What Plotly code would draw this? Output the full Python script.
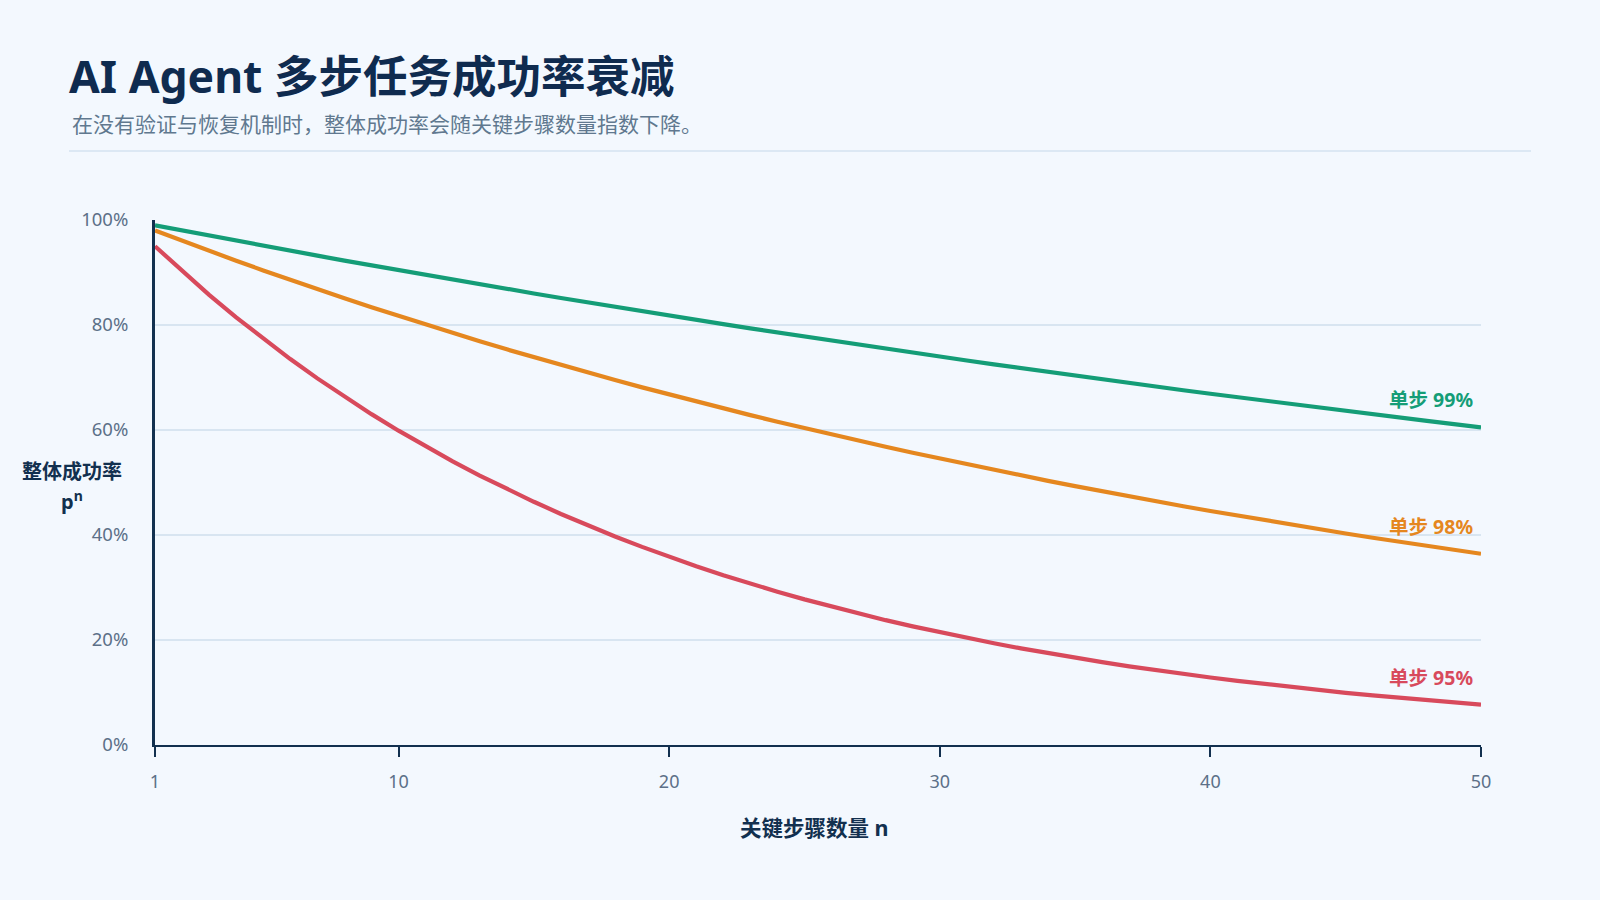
import plotly.graph_objects as go

# step counts and overall success p^n
steps = list(range(1, 51))

p99 = [0.9900, 0.9801, 0.9703, 0.9606, 0.9510, 0.9415, 0.9321, 0.9227, 0.9135, 0.9044,
       0.8953, 0.8864, 0.8775, 0.8687, 0.8601, 0.8515, 0.8429, 0.8345, 0.8262, 0.8179,
       0.8097, 0.8016, 0.7936, 0.7857, 0.7778, 0.7700, 0.7623, 0.7547, 0.7472, 0.7397,
       0.7323, 0.7250, 0.7177, 0.7106, 0.7034, 0.6964, 0.6894, 0.6826, 0.6757, 0.6690,
       0.6623, 0.6557, 0.6491, 0.6426, 0.6362, 0.6298, 0.6235, 0.6173, 0.6111, 0.6050]

p98 = [0.9800, 0.9604, 0.9412, 0.9224, 0.9039, 0.8858, 0.8681, 0.8508, 0.8337, 0.8171,
       0.8007, 0.7847, 0.7690, 0.7536, 0.7386, 0.7238, 0.7093, 0.6951, 0.6812, 0.6676,
       0.6543, 0.6412, 0.6283, 0.6158, 0.6035, 0.5914, 0.5796, 0.5680, 0.5566, 0.5455,
       0.5346, 0.5239, 0.5134, 0.5031, 0.4931, 0.4832, 0.4735, 0.4641, 0.4548, 0.4457,
       0.4368, 0.4281, 0.4195, 0.4111, 0.4029, 0.3948, 0.3869, 0.3792, 0.3716, 0.3642]

p95 = [0.9500, 0.9025, 0.8574, 0.8145, 0.7738, 0.7351, 0.6983, 0.6634, 0.6302, 0.5987,
       0.5688, 0.5404, 0.5133, 0.4877, 0.4633, 0.4401, 0.4181, 0.3972, 0.3774, 0.3585,
       0.3406, 0.3235, 0.3074, 0.2920, 0.2774, 0.2635, 0.2503, 0.2378, 0.2259, 0.2146,
       0.2039, 0.1937, 0.1840, 0.1748, 0.1661, 0.1578, 0.1499, 0.1424, 0.1353, 0.1285,
       0.1221, 0.1160, 0.1102, 0.1047, 0.0994, 0.0945, 0.0897, 0.0853, 0.0810, 0.0769]

series_names = ["单步 99%", "单步 98%", "单步 95%"]
series_colors = ["#149d77", "#e5871f", "#d84a5c"]
x_ticks = [1, 10, 20, 30, 40, 50]

FONT = "Noto Sans, Noto Sans CJK SC, sans-serif"
NAVY = "#12304f"

fig = go.Figure()
for name, vals, color in zip(series_names, [p99, p98, p95], series_colors):
    fig.add_trace(go.Scatter(x=steps, y=vals, mode="lines", name=name,
                             line=dict(color=color, width=4.2)))
    # end label above the last point
    fig.add_annotation(x=steps[-1], y=vals[-1], text="<b>%s</b>" % name,
                       showarrow=False, xanchor="right", yanchor="bottom",
                       xshift=-6, yshift=12, font=dict(size=19.5, color=color, family=FONT))

fig.update_layout(
    width=1600, height=900,
    paper_bgcolor="#f3f8fe", plot_bgcolor="#f3f8fe",
    font=dict(family=FONT, color="#5c7088"),
    showlegend=False,
    margin=dict(l=155, r=119, t=220, b=155),
    title=dict(text="<b>AI Agent 多步任务成功率衰减</b>", xref="container", yref="container",
               x=69 / 1600, y=1 - 77 / 900, xanchor="left", yanchor="middle",
               font=dict(size=44.5, color="#0f2b4f", family=FONT)),
)

fig.add_annotation(text="在没有验证与恢复机制时，整体成功率会随关键步骤数量指数下降。",
                   xref="paper", yref="paper", x=(70 - 155) / 1326, y=(745 - 124) / 525,
                   xanchor="left", yanchor="middle", showarrow=False,
                   font=dict(size=21, color="#60788f", family=FONT))

fig.add_shape(type="line", xref="paper", yref="paper",
              x0=(69 - 155) / 1326, x1=(1531 - 155) / 1326,
              y0=(745 - 151) / 525, y1=(745 - 151) / 525,
              line=dict(color="#d5e3f0", width=1.5))

# y axis title, two lines
fig.add_annotation(text="<b>整体成功率</b>", xref="paper", yref="paper",
                   x=(72 - 155) / 1326, y=(745 - 471) / 525, xanchor="center", yanchor="middle",
                   showarrow=False, font=dict(size=20, color=NAVY, family=FONT))
fig.add_annotation(text="<b>p<sup>n</sup></b>", xref="paper", yref="paper",
                   x=(72 - 155) / 1326, y=(745 - 500) / 525, xanchor="center", yanchor="middle",
                   showarrow=False, font=dict(size=20, color=NAVY, family=FONT))

fig.add_annotation(text="<b>关键步骤数量 n</b>", xref="paper", yref="paper",
                   x=0.497, y=(745 - 827) / 525, xanchor="center", yanchor="middle",
                   showarrow=False, font=dict(size=21.5, color=NAVY, family=FONT))

fig.update_xaxes(range=[1, 50], tickvals=x_ticks, showgrid=False, zeroline=False,
                 showline=True, linecolor=NAVY, linewidth=1.5,
                 ticks="outside", ticklen=10, tickwidth=2, tickcolor=NAVY,
                 tickfont=dict(size=18, color="#5c7088"), ticklabelstandoff=10)

fig.update_yaxes(range=[0, 1], tickvals=[0, 0.2, 0.4, 0.6, 0.8, 1.0], tickformat=".0%",
                 showgrid=True, gridcolor="#d8e5f1", gridwidth=1.5, zeroline=False,
                 showline=True, linecolor=NAVY, linewidth=3, ticks="",
                 tickfont=dict(size=18.5, color="#5c7088"), ticklabelstandoff=20)

fig.write_html("out.html", config={"displayModeBar": False},
               post_script="document.body.style.margin='0';")
